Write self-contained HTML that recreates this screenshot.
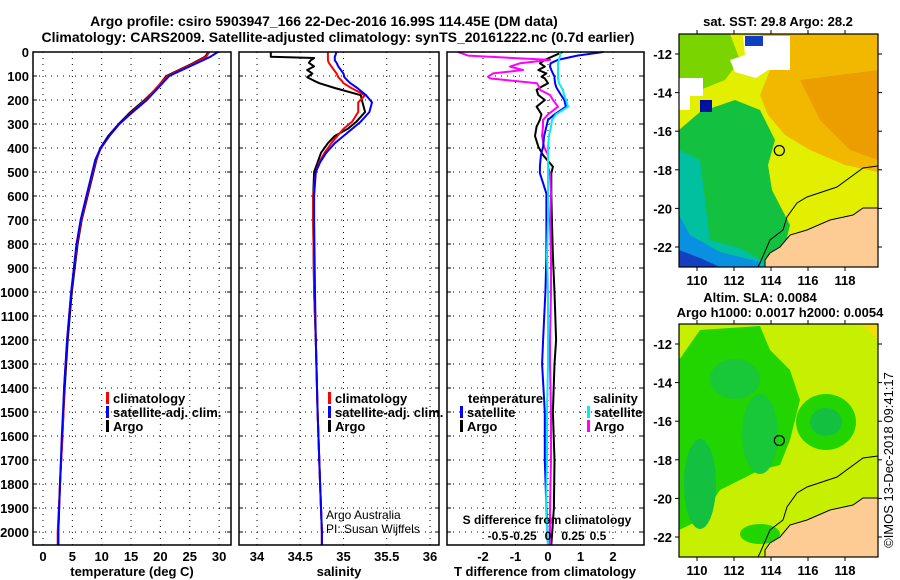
<!DOCTYPE html>
<html><head><meta charset="utf-8">
<style>
body{margin:0;background:#fff;}
svg{display:block;font-family:"Liberation Sans",sans-serif;}
.b{font-weight:bold;font-size:13px;}
.s{font-weight:bold;font-size:12px;}
</style></head>
<body>
<svg id="fig" width="900" height="580" viewBox="0 0 900 580">
<g class="b" style="font-size:14px" text-anchor="middle">
<text x="324" y="26">Argo profile: csiro 5903947_166 22-Dec-2016 16.99S 114.45E (DM data)</text>
<text x="338" y="42">Climatology: CARS2009. Satellite-adjusted climatology: synTS_20161222.nc (0.7d earlier)</text>
</g>
<g id="plots"></g>
<g id="maps"></g>
<text transform="translate(893,460) rotate(-90)" text-anchor="middle" font-size="13">©IMOS 13-Dec-2018 09:41:17</text>
</svg>
<script>
// ---------- data ----------
const depthTicks=[0,100,200,300,400,500,600,700,800,900,1000,1100,1200,1300,1400,1500,1600,1700,1800,1900,2000];
const tempTicks=[0,5,10,15,20,25,30];
const salTicks=[34,34.5,35,35.5,36];
const tdiffTicks=[-2,-1,0,1,2];
const sdiffTicks=[-0.5,-0.25,0,0.25,0.5];
const sdiffLabels=["-0.5","-0.25","0","0.25","0.5"];

const depthT=[0,20,50,100,150,200,250,300,350,400,450,500,600,700,800,1000,1200,1400,1500,1600,1800,2000,2054];
const tempClim=[28.3,27.8,25.5,21.2,19.3,17.5,15.2,13.0,11.3,9.9,9.0,8.5,7.5,6.5,5.8,4.8,4.1,3.6,3.5,3.3,2.9,2.5,2.5];
const tempSat=[29.8,28.5,25.9,21.5,19.6,17.7,15.3,13.0,11.3,9.8,8.9,8.4,7.4,6.4,5.7,4.8,4.1,3.6,3.4,3.2,2.9,2.6,2.6];
const tempArgo=[28.2,27.6,25.3,21.0,19.4,17.3,14.9,12.9,11.1,9.8,9.1,8.6,7.6,6.6,5.9,4.9,4.2,3.7,3.5,3.3,2.9,2.6,2.6];

const depthS=[0,10,20,25,35,45,60,75,90,105,120,130,150,180,210,250,290,320,350,380,420,460,500,600,700,1000,1200,1500,1800,2000,2054];
const salClim=[34.82,34.82,34.82,34.82,34.82,34.83,34.86,34.89,34.92,34.94,34.98,35.0,35.09,35.25,35.17,35.17,35.1,35.0,34.93,34.86,34.78,34.72,34.68,34.65,34.65,34.66,34.68,34.70,34.73,34.75,34.75];
const salSat=[34.92,34.91,34.90,34.90,34.90,34.92,34.94,34.97,35.0,35.01,35.05,35.08,35.16,35.26,35.33,35.3,35.2,35.1,35.0,34.9,34.8,34.73,34.68,34.66,34.66,34.67,34.68,34.70,34.73,34.75,34.75];
const salArgo=[34.16,34.16,34.16,34.66,34.62,34.60,34.66,34.58,34.64,34.58,34.66,34.72,34.9,35.2,35.22,35.25,35.15,35.05,34.9,34.82,34.74,34.70,34.66,34.65,34.65,34.66,34.68,34.70,34.73,34.75,34.75];

const depthD=[0,15,33,47,61,75,89,103,110,130,145,158,179,200,228,260,283,311,350,394,430,478,505,590,700,850,1000,1200,1300,1500,1700,1900,2054];
const tdiffSat=[1.7,0.9,0.3,0.08,0.06,0.1,0.15,0.2,0.2,0.22,0.25,0.3,0.4,0.5,0.55,0.2,0.0,-0.05,-0.12,-0.15,-0.22,-0.25,-0.25,-0.05,-0.05,-0.05,-0.08,-0.15,-0.18,-0.1,-0.1,-0.05,0.0];
const tdiffArgo=[0.45,0.2,-0.1,-0.25,-0.1,-0.3,-0.05,-0.2,-0.1,0.0,-0.2,-0.35,-0.3,-0.1,-0.35,-0.2,-0.25,-0.35,-0.4,-0.3,-0.15,0.15,0.1,0.1,0.12,0.15,0.2,0.25,0.2,0.15,0.2,0.18,0.1];
const sdiffArgo=[-0.9,-0.8,0.02,-0.28,-0.38,-0.25,-0.55,-0.6,-0.58,-0.11,-0.09,-0.08,0.02,0.05,0.1,0.0,-0.05,-0.05,-0.06,-0.04,0.0,0.0,0.02,0.03,0.02,0.03,0.03,0.02,0.02,0.03,0.03,0.02,0.02];
const sdiffSat=[0.12,0.12,0.11,0.1,0.1,0.1,0.1,0.1,0.1,0.11,0.13,0.15,0.16,0.18,0.2,0.08,0.04,0.03,0.01,0.0,0.0,0.0,0.0,0.0,0.0,-0.01,0.0,0.0,0.0,-0.01,-0.01,-0.02,0.0];

// ---------- scales ----------
const TOP=52,BOT=545;
const y=d=>TOP+d*0.24;
const tx=v=>43+v*5.87;
const sx=v=>257+(v-34)*86.5;
const dxT=v=>548+v*32.5;
const dxS=v=>548+v*100;
const panels=[{x0:33,x1:231},{x0:239,x1:439},{x0:447,x1:644}];
const NS="http://www.w3.org/2000/svg";
function el(tag,attrs,parent){const e=document.createElementNS(NS,tag);for(const k in attrs)e.setAttribute(k,attrs[k]);parent.appendChild(e);return e;}
const G=document.getElementById('plots');

panels.forEach((p,i)=>{
  const g=el('g',{},G);
  
  
  depthTicks.forEach(d=>{
    const l=el('line',{x1:p.x0,x2:p.x1,y1:y(d),y2:y(d),stroke:'#000','stroke-width':1,'stroke-dasharray':'1,5'},g);
    
    
    el('line',{x1:p.x0,x2:p.x0+4,y1:y(d),y2:y(d),stroke:'#000'},g);
    el('line',{x1:p.x1-4,x2:p.x1,y1:y(d),y2:y(d),stroke:'#000'},g);
  });
  const xs = i==0?tempTicks.map(tx):i==1?salTicks.map(sx):tdiffTicks.map(dxT);
  xs.forEach(xv=>{
    const l=el('line',{x1:xv,x2:xv,y1:TOP,y2:BOT,stroke:'#000','stroke-width':1,'stroke-dasharray':'1,5'},g);
    
    
  });
});

depthTicks.forEach(d=>{
  const t=el('text',{x:29,y:y(d)+5,'text-anchor':'end',class:'b'},G);
  t.textContent=d;
  
  
});
function xlabels(ticks,f,labels,yy,cls){ticks.forEach((v,i)=>{const t=el('text',{x:f(v),y:yy,'text-anchor':'middle',class:cls||'b'},G);t.textContent=labels?labels[i]:v;

});}
xlabels(tempTicks,tx,null,561);
xlabels(salTicks,sx,null,561);
xlabels(tdiffTicks,dxT,null,561);
function line(xsArr,dArr,f,color,name,w){
  const pts=xsArr.map((v,i)=>f(v).toFixed(1)+','+y(dArr[i]).toFixed(1)).join(' ');
  const pl=el('polyline',{points:pts,fill:'none',stroke:color,'stroke-width':w||2,'stroke-linejoin':'round'},G);
  
  
}
line(tempArgo,depthT,tx,'#000','temp-argo-line');
line(tempClim,depthT,tx,'#f00','temp-climatology-line');
line(tempSat,depthT,tx,'#00f','temp-satellite-line');
line(salArgo,depthS,sx,'#000','salinity-argo-line');
line(salClim,depthS,sx,'#f00','salinity-climatology-line');
line(salSat,depthS,sx,'#00f','salinity-satellite-line');
line(tdiffArgo,depthD,dxT,'#000','tdiff-argo-line');
line(sdiffArgo,depthD,dxS,'#f0f','sdiff-argo-line');
line(tdiffSat,depthD,dxT,'#00f','tdiff-satellite-line');
line(sdiffSat,depthD,dxS,'#0ee','sdiff-satellite-line');

const sdt=el('text',{x:547,y:524,'text-anchor':'middle',class:'s'},G);
sdt.textContent='S difference from climatology';


xlabels(sdiffTicks,dxS,sdiffLabels,540,'s');

panels.forEach(p=>{
  const r=el('rect',{x:p.x0,y:TOP,width:p.x1-p.x0,height:BOT-TOP,fill:'none',stroke:'#000','stroke-width':1.5},G);
  
  
});
[[132,'temperature (deg C)'],[339,'salinity'],[545,'T difference from climatology']].forEach(a=>{
  const t=el('text',{x:a[0],y:576,'text-anchor':'middle',class:'b'},G);t.textContent=a[1];
  
  
});
function leg(x,yy,color,label){
  if(color) el('rect',{x:x,y:yy-11,width:3,height:12,fill:color},G);
  const t=el('text',{x:x+(color?7:0),y:yy,class:'b'},G);t.textContent=label;
  
  
}
leg(106,403,'#f00','climatology');leg(106,417,'#00f','satellite-adj. clim.');leg(106,431,'#000','Argo');
leg(328,403,'#f00','climatology');leg(328,417,'#00f','satellite-adj. clim.');leg(328,431,'#000','Argo');
leg(468,403,null,'temperature');leg(460,417,'#00f','satellite');leg(460,431,'#000','Argo');
leg(593,403,null,'salinity');leg(587,417,'#0ee','satellite');leg(587,431,'#f0f','Argo');
const c1=el('text',{x:326,y:519,'font-size':12},G);c1.textContent='Argo Australia';


const c2=el('text',{x:326,y:533,'font-size':12},G);c2.textContent='PI: Susan Wijffels';



// ---------- maps ----------
const M=document.getElementById('maps');
const lonTicks=[110,112,114,116,118];
const latTicks=[-12,-14,-16,-18,-20,-22];
const argoLon=114.45, argoLat=-17.0;
const mx=lon=>697+(lon-110)*18.5;
function drawMap(top,name,kind){
  const bottom=top+233;
  const my=lat=>top+20+(-12-lat)*19.3;
  const g=el('g',{},M);
  
  
  const o=top-34;
  const P=s=>s.replace(/(\d+),(\d+)/g,(m,a,b)=>a+','+(+b+o));
  el('rect',{x:679,y:top,width:199,height:233,fill:kind=='sst'?'#e2f000':'#c6f000'},g);
  if(kind=='sst'){
    el('polygon',{points:P('760,34 878,34 878,172 845,165 810,150 785,135 768,115 760,95 770,70'),fill:'#f2b800'},g);
    el('polygon',{points:P('800,80 878,70 878,160 850,150 820,120'),fill:'#ec9e00'},g);
    el('polygon',{points:P('679,34 730,34 740,60 725,80 700,90 679,95'),fill:'#7ad400'},g);
    el('polygon',{points:P('679,130 700,112 735,100 760,110 775,140 768,165 772,190 790,225 785,245 770,258 765,267 679,267'),fill:'#14c040'},g);
    el('polygon',{points:P('679,150 700,160 705,200 710,240 740,248 765,262 765,267 679,267'),fill:'#00c0a0'},g);
    el('polygon',{points:P('679,215 690,235 720,252 760,262 760,267 679,267'),fill:'#0a90e0'},g);
    el('polygon',{points:P('679,250 700,258 720,267 679,267'),fill:'#1440c0'},g);
    el('polygon',{points:P('743,36 790,36 790,70 768,70 756,78 735,72 730,60 745,55'),fill:'#fff'},g);
    el('polygon',{points:P('679,78 703,78 703,96 690,96 690,110 679,110'),fill:'#fff'},g);
    el('rect',{x:700,y:top+66,width:12,height:12,fill:'#0010a0'},g);
    el('rect',{x:745,y:top+2,width:18,height:10,fill:'#1040c0'},g);
  } else {
    el('polygon',{points:P('679,70 700,40 760,36 770,60 790,80 800,110 790,150 780,175 760,180 740,190 720,200 700,230 679,240'),fill:'#22d400'},g);
    el('ellipse',{cx:826,cy:top+98,rx:30,ry:28,fill:'#22d400'},g);
    el('ellipse',{cx:826,cy:top+98,rx:16,ry:14,fill:'#14c040'},g);
    el('ellipse',{cx:700,cy:top+160,rx:16,ry:45,fill:'#14c040'},g);
    el('ellipse',{cx:760,cy:top+110,rx:18,ry:40,fill:'#18c838'},g);
    el('ellipse',{cx:735,cy:top+55,rx:25,ry:20,fill:'#18c838'},g);
    el('ellipse',{cx:760,cy:top+210,rx:20,ry:10,fill:'#22d400'},g);
    el('polygon',{points:P('860,34 878,34 878,50'),fill:'#eee000'},g);
  }
  el('polygon',{points:P('878,208 863,208 853,215 830,220 807,230 790,235 780,247 770,253 765,260 765,267 878,267'),fill:'#fccc94',stroke:'#000','stroke-width':1},g);
  el('polyline',{points:P('878,166 863,168 837,187 807,197 797,203 787,217 783,230 770,240 760,263 758,267'),fill:'none',stroke:'#000','stroke-width':1},g);
  const c=el('circle',{cx:mx(argoLon),cy:my(argoLat),r:5,fill:'none',stroke:'#000','stroke-width':1.2},g);
  
  
  el('rect',{x:679,y:top,width:199,height:233,fill:'none',stroke:'#000','stroke-width':1.2},g);
  lonTicks.forEach(l=>{
    el('line',{x1:mx(l),x2:mx(l),y1:top,y2:top-4,stroke:'#000'},g);
    el('line',{x1:mx(l),x2:mx(l),y1:bottom,y2:bottom+4,stroke:'#000'},g);
    const t=el('text',{x:mx(l),y:bottom+18,'text-anchor':'middle',class:'b'},g);t.textContent=l;
    
    
  });
  latTicks.forEach(l=>{
    el('line',{x1:679,x2:675,y1:my(l),y2:my(l),stroke:'#000'},g);
    el('line',{x1:878,x2:882,y1:my(l),y2:my(l),stroke:'#000'},g);
    const t=el('text',{x:672,y:my(l)+5,'text-anchor':'end',class:'b'},g);t.textContent=l;
    
    
  });
}
drawMap(34,'sst-map','sst');
drawMap(324,'sla-map','sla');
function mt(x,yy,s,n){const t=el('text',{x:x,y:yy,'text-anchor':'middle',class:'b'},M);t.textContent=s;

}
mt(778,26,'sat. SST: 29.8 Argo: 28.2','sst-map-title');
mt(760,302,'Altim. SLA: 0.0084','sla-map-title');
mt(780,317,'Argo h1000: 0.0017 h2000: 0.0054','sla-map-subtitle');
</script>
</body></html>
